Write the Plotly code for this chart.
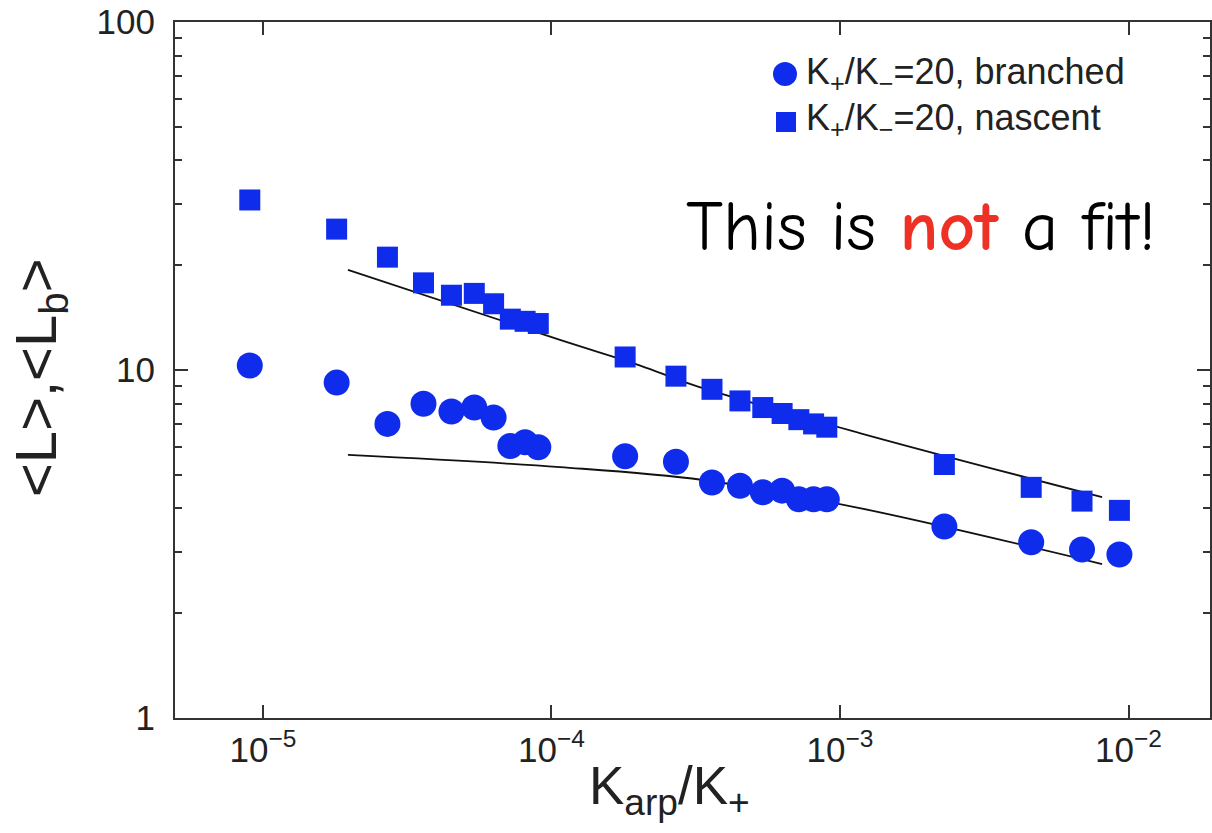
import plotly.graph_objects as go

# K_arp / K_+ values (shared by both series)
k_ratio = [9.0e-6, 1.8e-5, 2.7e-5, 3.6e-5, 4.5e-5, 5.4e-5, 6.3e-5, 7.2e-5, 8.1e-5, 9.0e-5,
           1.8e-4, 2.7e-4, 3.6e-4, 4.5e-4, 5.4e-4, 6.3e-4, 7.2e-4, 8.1e-4, 9.0e-4,
           2.3e-3, 4.6e-3, 6.9e-3, 9.3e-3]

# <L_b> for branched filaments, K+/K- = 20
branched = [10.3, 9.2, 7.0, 8.0, 7.6, 7.8, 7.3, 6.05, 6.2, 6.0,
            5.65, 5.45, 4.75, 4.65, 4.45, 4.5, 4.25, 4.25, 4.25,
            3.55, 3.2, 3.05, 2.95]

# <L> for nascent filaments, K+/K- = 20
nascent = [30.8, 25.4, 21.1, 17.8, 16.4, 16.6, 15.5, 14.0, 13.8, 13.6,
           10.9, 9.6, 8.8, 8.15, 7.8, 7.5, 7.2, 7.0, 6.85,
           5.35, 4.6, 4.2, 3.95]

# theory curves drawn over the data
theory_x_upper = [1.97e-5, 1.07e-4, 2.03e-4, 3.09e-4, 1.17e-3, 8.1e-3]
theory_y_upper = [19.4, 12.2, 10.3, 9.06, 6.59, 4.31]
theory_x_lower = [1.97e-5, 1.07e-4, 3.35e-4, 1.17e-3, 8.1e-3]
theory_y_lower = [5.70, 5.26, 4.83, 4.01, 2.77]

series_names = ["K<sub>+</sub>/K<sub>−</sub>=20, branched",
                "K<sub>+</sub>/K<sub>−</sub>=20, nascent"]

x_tick_vals = [1e-5, 1e-4, 1e-3, 1e-2]
x_tick_text = ["10<sup>−5</sup>", "10<sup>−4</sup>", "10<sup>−3</sup>", "10<sup>−2</sup>"]
y_tick_vals = [1, 10, 100]
y_tick_text = ["1", "10", "100"]
y_minor_vals = [2, 3, 4, 5, 6, 7, 8, 9, 20, 30, 40, 50, 60, 70, 80, 90]

BLUE = "#0f2ced"
AXIS = "#333333"
FONT = "Liberation Sans, Arial, Helvetica, sans-serif"

W, H = 1212, 833
L, R, T, B = 175, 2, 22, 115
PW, PH = W - L - R, H - T - B


def px(x):
    return (x - L) / PW


def py(y):
    return (H - B - y) / PH


fig = go.Figure()

fig.add_trace(go.Scatter(x=theory_x_upper, y=theory_y_upper, mode="lines",
                         line=dict(color="#111111", width=1.8, shape="spline"),
                         showlegend=False, hoverinfo="skip"))
fig.add_trace(go.Scatter(x=theory_x_lower, y=theory_y_lower, mode="lines",
                         line=dict(color="#111111", width=1.8, shape="spline"),
                         showlegend=False, hoverinfo="skip"))
fig.add_trace(go.Scatter(x=k_ratio, y=branched, mode="markers", name=series_names[0],
                         marker=dict(symbol="circle", size=26, color=BLUE, line=dict(width=0)),
                         showlegend=False))
fig.add_trace(go.Scatter(x=k_ratio, y=nascent, mode="markers", name=series_names[1],
                         marker=dict(symbol="square", size=21, color=BLUE, line=dict(width=0)),
                         showlegend=False))

tick_font = dict(family=FONT, size=35, color="#222222")
axis_common = dict(showline=True, linecolor=AXIS, linewidth=2, mirror="ticks",
                   ticks="inside", tickcolor=AXIS, tickwidth=1.5, ticklen=13,
                   showgrid=False, zeroline=False)

fig.update_xaxes(type="log", range=[-5.305, -1.7175],
                 tickmode="array", tickvals=x_tick_vals, ticktext=x_tick_text,
                 ticklabelstandoff=0, tickfont=tick_font, **axis_common)
fig.update_yaxes(type="log", range=[0, 2],
                 tickmode="array", tickvals=y_tick_vals, ticktext=y_tick_text,
                 ticklabelstandoff=11, tickfont=tick_font,
                 minor=dict(tickmode="array", tickvals=y_minor_vals, ticks="inside",
                            ticklen=7, tickcolor=AXIS, tickwidth=1.5),
                 **axis_common)

# legend: drawn markers plus labels
shapes = [
    dict(type="circle", xref="paper", yref="paper",
         x0=px(785 - 12), x1=px(785 + 12), y0=py(74 + 12), y1=py(74 - 12),
         fillcolor=BLUE, line=dict(width=0)),
    dict(type="rect", xref="paper", yref="paper",
         x0=px(786 - 10), x1=px(786 + 10), y0=py(122 + 10), y1=py(122 - 10),
         fillcolor=BLUE, line=dict(width=0)),
]

annotations = [
    dict(text=series_names[0], xref="paper", yref="paper", x=px(804), y=py(74),
         xanchor="left", yanchor="middle", showarrow=False,
         font=dict(family=FONT, size=36, color="#222222")),
    dict(text=series_names[1], xref="paper", yref="paper", x=px(804), y=py(120),
         xanchor="left", yanchor="middle", showarrow=False,
         font=dict(family=FONT, size=36, color="#222222")),
    dict(text="This is <b><span style='color:#ee3124'>not</span></b> a fit!",
         xref="paper", yref="paper", x=px(921), y=py(227),
         xanchor="center", yanchor="middle", showarrow=False,
         font=dict(family="Comic Sans MS, Comic Neue, Lato, sans-serif", size=71, color="#000000")),
    # axis titles
    dict(text="K<sub>arp</sub>/K<sub>+</sub>", xref="paper", yref="paper",
         x=px(669), y=py(789), xanchor="center", yanchor="middle", showarrow=False,
         font=dict(family=FONT, size=53, color="#222222")),
    dict(text="<L>,<L<sub>b</sub>>", xref="paper", yref="paper",
         x=px(40), y=py(378), xanchor="center", yanchor="middle", showarrow=False,
         textangle=-90, font=dict(family=FONT, size=58, color="#222222")),
]

fig.update_layout(width=W, height=H,
                  margin=dict(l=L, r=R, t=T, b=B, autoexpand=False),
                  paper_bgcolor="white", plot_bgcolor="white",
                  shapes=shapes, annotations=annotations, showlegend=False)

fig.write_html("out.html")
